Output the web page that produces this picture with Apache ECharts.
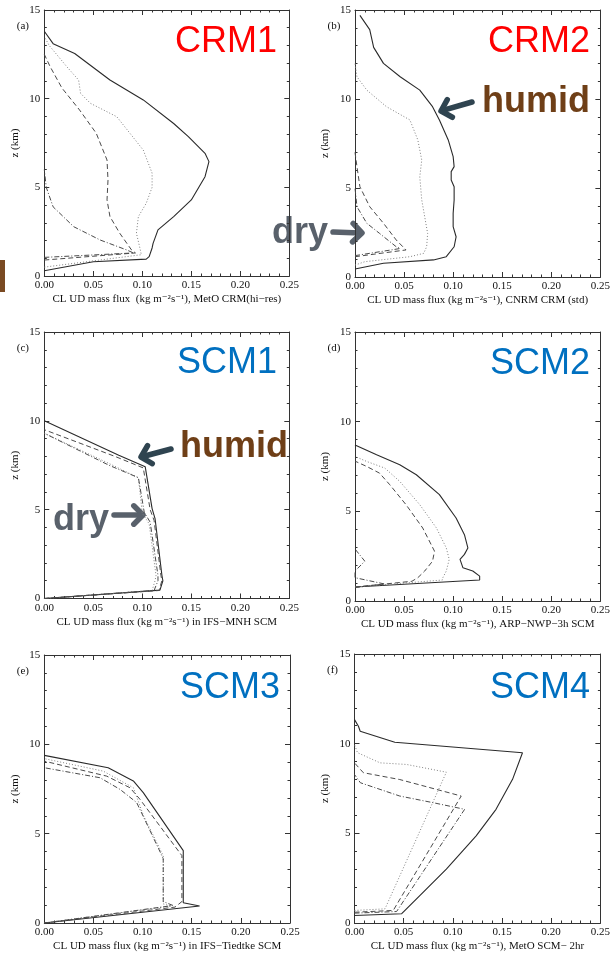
<!DOCTYPE html>
<html><head><meta charset="utf-8">
<script src="https://cdn.jsdelivr.net/npm/echarts@6/dist/echarts.min.js"></script>
<style>html,body{margin:0;padding:0;background:#fff}#c{width:613px;height:953px}</style>
</head><body><div id="c"></div>
<script>
// ---------- DATA: [mass flux (kg m-2 s-1), z (km)] ----------
const crm1Solid   = [[0,0.3],[0.05,0.8],[0.104,0.95],[0.107,1.09],[0.110,1.58],[0.111,1.84],[0.116,2.6],[0.132,3.35],[0.150,4.29],[0.164,5.6],[0.168,6.45],[0.164,6.92],[0.147,7.86],[0.132,8.6],[0.101,9.93],[0.067,11.05],[0.031,12.55],[0.009,13.1],[0,13.8]];
const crm1Dotted  = [[0,0.5],[0.099,1.2],[0.098,1.47],[0.094,2.41],[0.096,3.35],[0.104,4.1],[0.110,5.0],[0.110,5.8],[0.101,7.1],[0.074,8.98],[0.047,9.74],[0.037,10.3],[0.035,11.05],[0.023,11.8],[0.005,13.0],[0,13.5]];
const crm1Dashed  = [[0,0.9],[0.093,1.3],[0.089,1.47],[0.077,2.41],[0.067,3.35],[0.064,4.29],[0.065,5.41],[0.064,6.54],[0.053,8.05],[0.036,9.36],[0.018,10.6],[0.006,11.8],[0,12.5]];
const crm1DashDot = [[0,1.05],[0.091,1.3],[0.084,1.47],[0.057,2.03],[0.030,2.78],[0.009,3.9],[0.002,5.0],[0,6.0]];

const crm2Solid   = [[0,0.45],[0.029,0.77],[0.08,0.96],[0.093,1.14],[0.101,1.7],[0.103,2.26],[0.100,2.83],[0.100,3.58],[0.101,4.33],[0.101,5.07],[0.098,5.45],[0.098,5.92],[0.101,6.2],[0.100,6.76],[0.095,7.7],[0.086,8.82],[0.079,9.57],[0.066,10.5],[0.046,11.25],[0.029,12.0],[0.019,12.9],[0.015,13.9],[0.005,14.7]];
const crm2Dotted  = [[0,0.67],[0.01,0.86],[0.056,1.14],[0.070,1.33],[0.073,1.7],[0.074,2.45],[0.071,3.39],[0.068,4.33],[0.066,5.63],[0.068,6.57],[0.064,7.7],[0.056,8.82],[0.032,9.57],[0.012,10.5],[0.002,11.25],[0,12.0]];
const crm2Dashed  = [[0,1.14],[0.052,1.52],[0.042,2.08],[0.029,3.02],[0.015,3.95],[0.005,5.07],[0.002,6.2],[0,7.0]];
const crm2DashDot = [[0,1.2],[0.046,1.6],[0.042,1.7],[0.025,2.45],[0.012,3.02],[0.002,3.95],[0,5.0]];

const scm1Solid   = [[0,0],[0.118,0.47],[0.121,1.0],[0.120,1.31],[0.113,4.5],[0.110,5.06],[0.103,7.41],[0.076,8.06],[0,10.0]];
const scm1Dotted  = [[0,0],[0.110,0.45],[0.113,1.0],[0.114,1.3],[0.107,4.2],[0.100,4.8],[0.096,6.8],[0.066,7.6],[0,9.3]];
const scm1Dashed  = [[0,0],[0.117,0.45],[0.120,1.0],[0.119,1.3],[0.112,4.4],[0.108,5.0],[0.101,7.35],[0.072,8.0],[0,9.5]];
const scm1DashDot = [[0,0],[0.112,0.45],[0.116,1.0],[0.116,1.3],[0.108,4.3],[0.102,4.85],[0.096,6.8],[0.066,7.5],[0,9.3]];

const scm2Solid   = [[0,0.78],[0.127,1.17],[0.127,1.39],[0.120,1.67],[0.110,1.85],[0.107,2.32],[0.1115,2.6],[0.115,2.96],[0.1115,3.7],[0.103,4.63],[0.086,5.93],[0.0625,7.04],[0.0456,7.6],[0.022,8.15],[0,8.7]];
const scm2Dotted  = [[0,0.78],[0.089,1.17],[0.0895,1.3],[0.093,1.67],[0.096,2.32],[0.093,2.96],[0.083,4.07],[0.066,5.37],[0.0456,6.67],[0.0304,7.41],[0.012,7.78],[0,8.06]];
const scm2Dashed  = [[0,0.78],[0.058,1.1],[0.064,1.3],[0.071,1.67],[0.079,2.22],[0.081,2.78],[0.069,4.07],[0.052,5.37],[0.0355,6.48],[0.025,7.13],[0.012,7.5],[0,7.8]];
const scm2DashDot = [[0,0.75],[0.03,0.95],[0,1.3],[0,1.67],[0.010,2.22],[0,2.9]];

const scm3Solid   = [[0,0],[0.158,0.95],[0.1414,1.13],[0.1414,4.05],[0.1007,7.3],[0.0906,7.95],[0.065,8.69],[0,9.38]];
const scm3Dotted  = [[0,0],[0.129,0.95],[0.121,1.07],[0.121,3.77],[0.101,6.0],[0.0906,7.57],[0.06,8.5],[0,9.2]];
const scm3Dashed  = [[0,0],[0.133,0.89],[0.140,1.2],[0.140,3.77],[0.0974,6.92],[0.0872,7.57],[0.0635,8.22],[0,9.06]];
const scm3DashDot = [[0,0],[0.131,0.98],[0.121,1.2],[0.121,3.6],[0.118,3.96],[0.094,6.74],[0.077,7.48],[0.0567,8.13],[0,8.69]];

const scm4Solid   = [[0,0.42],[0.048,0.52],[0.0664,1.53],[0.0934,3.01],[0.1237,4.86],[0.1439,6.34],[0.1607,8.01],[0.1708,9.49],[0.041,10.08],[0.0058,10.69],[0.004,10.97],[0,11.34]];
const scm4Dotted  = [[0,0.7],[0.031,0.79],[0.0934,8.41],[0.053,8.84],[0.026,8.93],[0.003,9.5],[0,9.95]];
const scm4Dashed  = [[0,0.6],[0.0394,0.7],[0.1085,7.08],[0.046,8.0],[0.009,8.38],[0,8.93]];
const scm4DashDot = [[0,0.55],[0.0428,0.64],[0.112,6.34],[0.0798,6.71],[0.046,7.08],[0.006,7.82],[0,8.28]];

const panelLetters = ['(a)','(b)','(c)','(d)','(e)','(f)'];
const panelNames   = ['CRM1','CRM2','SCM1','SCM2','SCM3','SCM4'];
const xTitles = [
  'CL UD mass flux  (kg m\u207B\u00B2s\u207B\u00B9), MetO CRM(hi\u2212res)',
  'CL UD mass flux (kg m\u207B\u00B2s\u207B\u00B9), CNRM CRM (std)',
  'CL UD mass flux (kg m\u207B\u00B2s\u207B\u00B9) in IFS\u2212MNH SCM',
  'CL UD mass flux (kg m\u207B\u00B2s\u207B\u00B9), ARP\u2212NWP\u22123h SCM',
  'CL UD mass flux (kg m\u207B\u00B2s\u207B\u00B9) in IFS\u2212Tiedtke SCM',
  'CL UD mass flux (kg m\u207B\u00B2s\u207B\u00B9), MetO SCM\u2212 2hr'
];
const yTitle = 'z (km)';
const xRange = [0, 0.25], xStep = 0.05;
const yRange = [0, 15], yStep = 5;

const panelData = [
  [crm1Solid, crm1Dotted, crm1Dashed, crm1DashDot],
  [crm2Solid, crm2Dotted, crm2Dashed, crm2DashDot],
  [scm1Solid, scm1Dotted, scm1Dashed, scm1DashDot],
  [scm2Solid, scm2Dotted, scm2Dashed, scm2DashDot],
  [scm3Solid, scm3Dotted, scm3Dashed, scm3DashDot],
  [scm4Solid, scm4Dotted, scm4Dashed, scm4DashDot]
];

// ---------- LAYOUT / STYLE ----------
const grids = [
  {left: 44.3, top: 10,  width: 245, height: 266},
  {left: 355,  top: 10,  width: 246.5, height: 267},
  {left: 44.3, top: 332, width: 245, height: 266.5},
  {left: 355,  top: 332, width: 246.5, height: 269},
  {left: 44.3, top: 655, width: 245.7, height: 269.3},
  {left: 354.5,top: 654, width: 247, height: 270.3}
];
const lineStyles = [
  {type: 'solid', color: '#2a2a2a', width: 1.1},
  {type: [1, 2], color: '#808080', width: 1},
  {type: [5, 3], color: '#4a4a4a', width: 1},
  {type: [5, 2, 1, 2], color: '#4a4a4a', width: 1}
];
const SERIF = '"Liberation Serif","DejaVu Serif",serif';
const SANS = '"Liberation Sans",Arial,sans-serif';
const frameColor = '#333';

const option = {animation: false, backgroundColor: '#fff', grid: [], xAxis: [], yAxis: [], series: [], graphic: []};

grids.forEach((g, i) => {
  option.grid.push(Object.assign({containLabel: false, show: false}, g));
  const tick = {show: true, inside: true, length: 5, lineStyle: {color: frameColor}};
  const minor = {show: true, splitNumber: 5, length: 2.5, lineStyle: {color: frameColor}};
  const aLine = {show: true, onZero: false, lineStyle: {color: frameColor, width: 1}};
  option.xAxis.push({
    type: 'value', gridIndex: i, position: 'bottom', min: xRange[0], max: xRange[1], interval: xStep,
    axisLine: aLine, axisTick: tick, minorTick: minor, splitLine: {show: false},
    axisLabel: {margin: 4, fontFamily: SERIF, fontSize: 11, color: '#111', formatter: v => v.toFixed(2)},
    name: xTitles[i], nameLocation: 'middle', nameGap: 18,
    nameTextStyle: {fontFamily: SERIF, fontSize: 11, color: '#111'}
  });
  option.xAxis.push({
    type: 'value', gridIndex: i, position: 'top', min: xRange[0], max: xRange[1], interval: xStep,
    axisLine: aLine, axisTick: tick, minorTick: minor, splitLine: {show: false}, axisLabel: {show: false}
  });
  option.yAxis.push({
    type: 'value', gridIndex: i, position: 'left', min: yRange[0], max: yRange[1], interval: yStep,
    axisLine: aLine, axisTick: tick, minorTick: minor, splitLine: {show: false},
    axisLabel: {margin: 4, fontFamily: SERIF, fontSize: 11, color: '#111'},
    name: yTitle, nameLocation: 'middle', nameRotate: 90, nameGap: 24,
    nameTextStyle: {fontFamily: SERIF, fontSize: 11, color: '#111'}
  });
  option.yAxis.push({
    type: 'value', gridIndex: i, position: 'right', min: yRange[0], max: yRange[1], interval: yStep,
    axisLine: aLine, axisTick: tick, minorTick: minor, splitLine: {show: false}, axisLabel: {show: false}
  });
  panelData[i].forEach((d, k) => {
    option.series.push({
      type: 'line', xAxisIndex: 2 * i, yAxisIndex: 2 * i, data: d,
      symbol: 'none', showSymbol: false, silent: true, smooth: false,
      lineStyle: lineStyles[k]
    });
  });
  // panel letter
  option.graphic.push({type: 'text', x: g.left - 27.5, y: g.top + 16.5,
    style: {text: panelLetters[i], font: '11px ' + SERIF, fill: '#111', align: 'left', verticalAlign: 'middle'}});
});

// big model labels (right edge x, cap-centre y)
const nameRed = '#ff0000', nameBlue = '#0070c0';
const namePos = [[277, 42.5], [590, 42.5], [277, 363.5], [590, 364.5], [280, 688.5], [590, 688.5]];
panelNames.forEach((n, i) => {
  option.graphic.push({type: 'text', x: namePos[i][0], y: namePos[i][1],
    style: {text: n, font: '36px ' + SANS, fill: i < 2 ? nameRed : nameBlue, align: 'right', verticalAlign: 'middle'}});
});

// annotations
const humidColor = '#6f3f17', dryColor = '#59616b', humidArrow = '#2f4450';
function arrow(tail, tip, color) {
  const dx = tail[0] - tip[0], dy = tail[1] - tip[1];
  const L = Math.hypot(dx, dy), ux = dx / L, uy = dy / L;
  const a = Math.PI / 4, h = 13, c = Math.cos(a), s = Math.sin(a);
  const r1 = [tip[0] + h * (ux * c - uy * s), tip[1] + h * (ux * s + uy * c)];
  const r2 = [tip[0] + h * (ux * c + uy * s), tip[1] + h * (-ux * s + uy * c)];
  const st = {stroke: color, lineWidth: 5.5, lineCap: 'round', lineJoin: 'round', fill: null};
  return [
    {type: 'polyline', shape: {points: [tail, [tip[0] + ux * 2, tip[1] + uy * 2]]}, style: st},
    {type: 'polyline', shape: {points: [r1, tip, r2]}, style: st}
  ];
}
function label(text, x, y, color, size) {
  return {type: 'text', x: x, y: y, style: {text: text, font: 'bold ' + size + 'px ' + SANS, fill: color, align: 'left', verticalAlign: 'middle'}};
}
option.graphic.push(label('humid', 482, 102.5, humidColor, 36));
option.graphic.push(...arrow([472, 102], [441, 111], humidArrow));
option.graphic.push(label('humid', 180, 447.5, humidColor, 36));
option.graphic.push(...arrow([171, 449], [141, 457], humidArrow));
option.graphic.push(label('dry', 272, 233, dryColor, 36));
option.graphic.push(...arrow([333, 232], [362, 233], dryColor));
option.graphic.push(label('dry', 53, 520, dryColor, 36));
option.graphic.push(...arrow([114, 515], [143, 515], dryColor));
// brown edge fragment at left
option.graphic.push({type: 'rect', shape: {x: 0, y: 260, width: 5, height: 32}, style: {fill: '#7a4a22'}});

const chart = echarts.init(document.getElementById('c'), null, {renderer: 'canvas'});
chart.setOption(option);
</script>
</body></html>
